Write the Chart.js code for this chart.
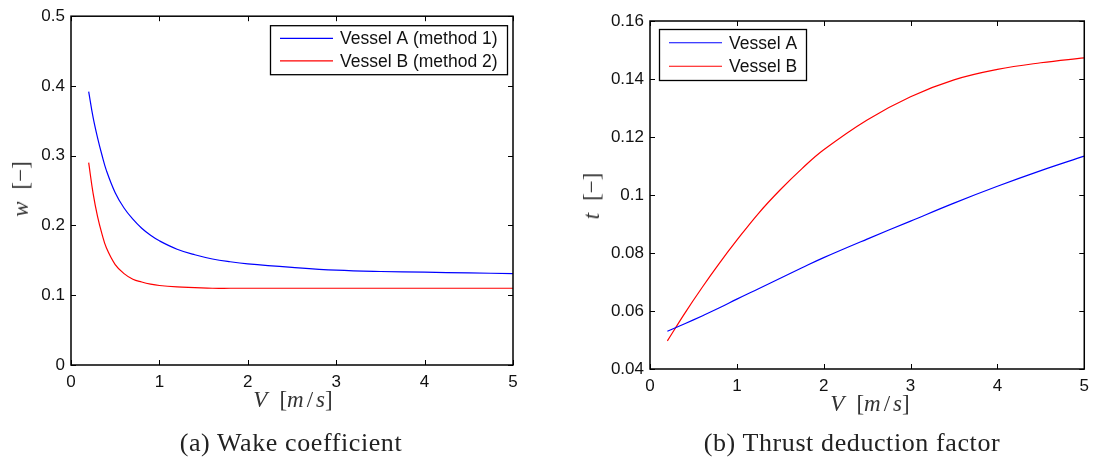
<!DOCTYPE html>
<html>
<head>
<meta charset="utf-8">
<script src="https://cdn.jsdelivr.net/npm/chart.js@4.4.1/dist/chart.umd.min.js"></script>
<style>
  body { margin: 0; background: #fff; width: 1096px; height: 462px; position: relative; overflow: hidden; }
  canvas { position: absolute; top: 0; }
  .lbl { position: absolute; font: 23px "Liberation Serif", "DejaVu Serif", serif; color: #333; white-space: nowrap; transform: translate(-50%, -50%); }
  .rot { transform: translate(-50%, -50%) rotate(-90deg); }
  .cap { position: absolute; top: 443px; font: 26px "Liberation Serif", "DejaVu Serif", serif; letter-spacing: 0.6px; color: #222; white-space: nowrap; transform: translate(-50%, -50%); }
  i { font-style: italic; }
  .sp { display: inline-block; width: 12px; }
  .s2 { display: inline-block; width: 3px; }
</style>
</head>
<body>
<canvas id="chartW" width="548" height="420" style="left:0"></canvas>
<canvas id="chartT" width="548" height="420" style="left:548px"></canvas>

<div class="lbl rot" style="left:21px;top:189px"><i>w</i><span class="sp"></span>[−]</div>
<div class="lbl" style="left:293px;top:400px"><i>V</i><span class="sp"></span>[<i>m</i><span class="s2"></span>/<span class="s2"></span><i>s</i>]</div>
<div class="lbl rot" style="left:592px;top:196px"><i>t</i><span class="sp"></span>[−]</div>
<div class="lbl" style="left:870px;top:404px"><i>V</i><span class="sp"></span>[<i>m</i><span class="s2"></span>/<span class="s2"></span><i>s</i>]</div>
<div class="cap" style="left:291px">(a) Wake coefficient</div>
<div class="cap" style="left:852px">(b) Thrust deduction factor</div>

<script>
// ===== DATA =====
// wake coefficient w vs speed V
const speedW = [0.2, 0.25, 0.3, 0.35, 0.4, 0.5, 0.6, 0.7, 0.8, 0.9, 1.0, 1.2, 1.4, 1.6, 1.8, 2.0, 2.5, 3.0, 3.5, 4.0, 4.5, 5.0];
const wakeA = [0.392, 0.355, 0.326, 0.301, 0.279, 0.247, 0.225, 0.209, 0.196, 0.186, 0.178, 0.166, 0.158, 0.152, 0.148, 0.145, 0.140, 0.136, 0.134, 0.133, 0.132, 0.131];
const wakeB = [0.290, 0.246, 0.213, 0.188, 0.168, 0.144, 0.131, 0.123, 0.119, 0.116, 0.114, 0.112, 0.111, 0.110, 0.110, 0.110, 0.110, 0.110, 0.110, 0.110, 0.110, 0.110];

// thrust deduction factor t vs speed V
const speedT = [0.2, 0.4, 0.6, 0.8, 1.0, 1.25, 1.5, 1.75, 2.0, 2.5, 3.0, 3.5, 4.0, 4.5, 5.0];
const thrustA = [0.0530, 0.0556, 0.0583, 0.0611, 0.0641, 0.0677, 0.0713, 0.0749, 0.0784, 0.0848, 0.0910, 0.0972, 0.1030, 0.1084, 0.1134];
const thrustB = [0.0497, 0.0592, 0.0681, 0.0765, 0.0844, 0.0937, 0.1018, 0.1091, 0.1156, 0.1259, 0.1339, 0.1397, 0.1433, 0.1456, 0.1473];

const wLabels = ["Vessel A (method 1)", "Vessel B (method 2)"];
const tLabels = ["Vessel A", "Vessel B"];
const xTicks = [0, 1, 2, 3, 4, 5];

const BLUE = "#0000ff", RED = "#ff0000";
const tickFont = { family: "'Liberation Sans', Arial, sans-serif", size: 17 };

// ===== PLUGINS =====
// matlab style box with inward ticks on all four sides
const boxPlugin = {
  id: "boxPlugin",
  afterDatasetsDraw(chart) {
    const { ctx, chartArea: a, scales: { x, y } } = chart;
    ctx.save();
    ctx.strokeStyle = "#000";
    ctx.lineWidth = 1;
    x.ticks.forEach(t => {
      const px = Math.round(x.getPixelForValue(t.value)) + 0.5;
      ctx.beginPath();
      ctx.moveTo(px, a.bottom); ctx.lineTo(px, a.bottom - 5);
      ctx.moveTo(px, a.top); ctx.lineTo(px, a.top + 5);
      ctx.stroke();
    });
    y.ticks.forEach(t => {
      const py = Math.round(y.getPixelForValue(t.value)) + 0.5;
      ctx.beginPath();
      ctx.moveTo(a.left, py); ctx.lineTo(a.left + 5, py);
      ctx.moveTo(a.right, py); ctx.lineTo(a.right - 5, py);
      ctx.stroke();
    });
    ctx.lineWidth = 1.5;
    ctx.strokeRect(a.left, a.top, a.right - a.left, a.bottom - a.top);
    ctx.restore();
  }
};

// boxed legend inside the axes
const boxLegend = {
  id: "boxLegend",
  afterDraw(chart, args, opts) {
    const { ctx, chartArea: a } = chart;
    const x1 = opts.left != null ? a.left + opts.left : a.right - opts.right - opts.w;
    const y0 = a.top + opts.top;
    ctx.save();
    ctx.fillStyle = "#fff";
    ctx.fillRect(x1, y0, opts.w, opts.h);
    ctx.strokeStyle = "#000";
    ctx.lineWidth = 1.3;
    ctx.strokeRect(x1 + 0.5, y0 + 0.5, opts.w, opts.h);
    ctx.font = "17.5px 'Liberation Sans', Arial, sans-serif";
    ctx.textBaseline = "middle";
    chart.data.datasets.forEach((ds, i) => {
      const ly = y0 + opts.h * (i * 2 + 1) / 4 + (i === 0 ? 1 : -1);
      ctx.strokeStyle = ds.borderColor;
      ctx.lineWidth = 1.2;
      ctx.beginPath();
      ctx.moveTo(x1 + 10, ly);
      ctx.lineTo(x1 + 63, ly);
      ctx.stroke();
      ctx.fillStyle = "#111";
      ctx.fillText(ds.label, x1 + 70, ly + 1);
    });
    ctx.restore();
  }
};

function pts(xs, ys) { return xs.map((v, i) => ({ x: v, y: ys[i] })); }

function makeChart(id, cfg) {
  return new Chart(document.getElementById(id), {
    type: "line",
    data: {
      datasets: cfg.series.map((s, i) => ({
        label: cfg.labels[i],
        data: pts(cfg.xs, s),
        borderColor: i === 0 ? BLUE : RED,
        borderWidth: 1.2,
        pointRadius: 0,
        fill: false,
        tension: 0.4
      }))
    },
    options: {
      responsive: false,
      animation: false,
      layout: { padding: { top: cfg.padTop, right: cfg.padRight, left: 0, bottom: 0 } },
      plugins: { legend: { display: false }, tooltip: { enabled: false }, boxLegend: cfg.legend },
      scales: {
        x: {
          type: "linear", min: 0, max: 5,
          afterBuildTicks: s => { s.ticks = xTicks.map(v => ({ value: v })); },
          afterFit: s => { s.height = cfg.xH; },
          grid: { display: false, drawTicks: false, tickLength: 0 },
          border: { display: false },
          ticks: { font: tickFont, color: "#111", padding: 7, maxRotation: 0 }
        },
        y: {
          type: "linear", min: cfg.yMin, max: cfg.yMax,
          afterBuildTicks: s => { s.ticks = cfg.yTicks.map(v => ({ value: v })); },
          afterFit: s => { s.width = cfg.yW; },
          grid: { display: false, drawTicks: false, tickLength: 0 },
          border: { display: false },
          ticks: { font: tickFont, color: "#111", padding: 6, callback: v => String(+v.toFixed(2)) }
        }
      }
    },
    plugins: [boxPlugin, boxLegend]
  });
}

makeChart("chartW", {
  xs: speedW, series: [wakeA, wakeB], labels: wLabels,
  yMin: 0, yMax: 0.5, yTicks: [0, 0.1, 0.2, 0.3, 0.4, 0.5],
  padTop: 15, padRight: 35, xH: 55, yW: 71,
  legend: { top: 9, right: 6, w: 237, h: 49 }
});

makeChart("chartT", {
  xs: speedT, series: [thrustA, thrustB], labels: tLabels,
  yMin: 0.04, yMax: 0.16, yTicks: [0.04, 0.06, 0.08, 0.1, 0.12, 0.14, 0.16],
  padTop: 21, padRight: 7, xH: 51, yW: 102,
  legend: { top: 8, left: 9, w: 147, h: 51 }
});
</script>
</body>
</html>
